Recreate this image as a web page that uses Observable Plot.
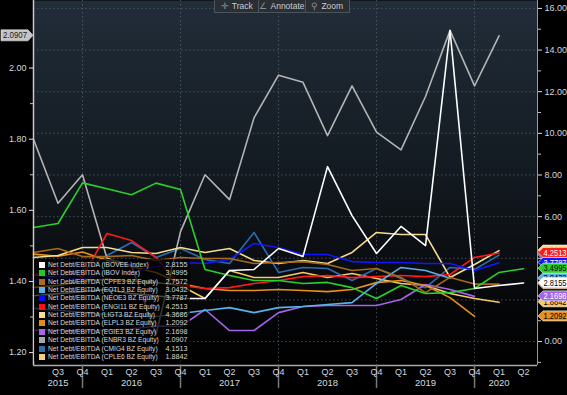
<!DOCTYPE html>
<html><head><meta charset="utf-8">
<script src="https://cdn.jsdelivr.net/npm/d3@7"></script>
<script src="https://cdn.jsdelivr.net/npm/@observablehq/plot@0.6"></script>
<style>
html,body{margin:0;padding:0;background:#000;}
#wrap{position:relative;width:567px;height:395px;overflow:hidden;background:#000;font-family:"Liberation Sans",Arial,sans-serif;}
#toolbar{position:absolute;left:214px;top:0;width:134px;height:12px;background:#2a2f35;border:1px solid #4c535b;border-top:none;display:flex;font-size:8.5px;color:#c8cdd2;line-height:12px;}
#toolbar span{flex:1;text-align:center;border-right:1px solid #4c535b;}
#toolbar span:last-child{border-right:none;}
#toolbar i{font-style:normal;color:#8a9096;margin-right:3px;}
#legend{position:absolute;left:34px;top:259px;width:156px;height:102px;background:rgba(0,0,0,0.72);font-size:8px;color:#d8d8d8;}
.row{position:absolute;left:0;height:8px;width:156px;line-height:8px;white-space:nowrap;}
.sw{position:absolute;left:5px;top:1px;width:6px;height:6px;}
.nm{position:absolute;left:14px;top:0;transform:scaleX(0.83);transform-origin:0 50%;}
.vl{position:absolute;right:3px;top:0;transform:scaleX(0.9);transform-origin:100% 50%;}
</style></head><body>
<div id="wrap"></div>
<script>
// ---------- data ----------
const quarters = ["2015Q2","2015Q3","2015Q4","2016Q1","2016Q2","2016Q3","2016Q4","2017Q1","2017Q2","2017Q3","2017Q4","2018Q1","2018Q2","2018Q3","2018Q4","2019Q1","2019Q2","2019Q3","2019Q4","2020Q1","2020Q2"];
const yearLabels = ["2015","2016","2017","2018","2019","2020"];
const yearAnchors = ["2015Q3","2016Q2","2017Q2","2018Q2","2019Q2","2020Q1"];
const rightTicks = [0,2,4,6,8,10,12,14,16];
const rightMinor = [-1,1,3,5,7,9,11,13,15];
const leftTicks = [1.2,1.4,1.6,1.8,2.0];
const leftMinor = [1.3,1.5,1.7,1.9];

const seriesNames = ["IBOVEE Index","IBOV Index","CPFE3 BZ Equity","EQTL3 BZ Equity","NEOE3 BZ Equity","ENGI11 BZ Equity","LIGT3 BZ Equity","ELPL3 BZ Equity","EGIE3 BZ Equity","ENBR3 BZ Equity","CMIG4 BZ Equity","CPLE6 BZ Equity"];
const lastValues = [2.8155,3.4995,2.7572,3.0432,3.7787,4.2513,4.3686,1.2092,2.1698,2.0907,4.1513,1.8842];

const ibovee = [2.2,2.3,2.4,2.5,2.3,2.2,2.07,2.07,3.41,3.46,4.47,4.09,8.40,6.05,4.23,5.53,4.61,14.94,2.55,2.69,2.8155];
const ibov   = [5.48,5.67,7.62,7.34,7.05,7.61,7.30,3.46,3.17,2.93,2.93,2.79,2.84,2.59,2.07,2.69,2.31,2.35,2.55,3.32,3.4995];
const cpfe3  = [4.28,4.47,4.08,4.08,4.13,3.89,4.04,3.99,3.99,3.75,3.80,3.84,3.70,3.41,3.51,3.08,2.35,3.08,2.76,2.7572,null];
const eqtl3  = [1.6,1.5,1.4,1.3,1.2,1.2,1.35,1.49,1.63,1.39,1.63,1.68,1.78,1.87,2.79,3.56,3.41,3.0432,null,null,null];
const neoe3  = [2.9,3.1,3.0,3.3,3.3,3.6,3.80,3.75,3.94,4.71,4.52,4.18,4.18,3.84,3.80,3.80,3.75,3.75,3.41,3.7787,null];
const engi11 = [3.2,3.5,3.1,5.19,4.85,4.04,2.69,2.55,2.59,2.79,2.93,3.12,3.17,3.07,3.12,3.17,3.12,3.22,4.04,4.2513,null];
const ligt3  = [4.04,4.13,4.52,4.52,4.28,4.23,4.52,4.28,4.47,3.89,3.75,3.89,3.75,4.28,5.24,5.14,5.14,3.08,3.70,4.3686,null];
const elpl3  = [4.2,4.1,4.3,3.9,3.6,3.32,2.79,2.55,2.45,2.45,2.50,2.45,2.40,2.50,2.83,2.93,2.69,2.11,1.2092,null,null];
const egie3  = [0.55,0.55,0.5,0.55,0.6,0.75,0.72,1.54,0.53,0.53,1.39,1.68,1.73,1.73,1.73,2.02,2.74,2.50,2.1698,null,null];
const enbr3  = [1.80,1.62,1.70,1.465,1.445,1.25,1.54,1.70,1.63,1.86,1.98,1.96,1.81,1.95,1.82,1.77,1.92,2.106,1.95,2.0907,null]; // left axis
const cmig4  = [3.2,3.1,3.4,4.13,4.76,4.04,4.47,3.94,3.75,5.24,3.32,3.56,3.51,2.93,3.51,3.03,2.59,3.56,3.46,4.1513,null];
const cple6  = [2.6,2.7,2.9,3.0,2.9,2.84,2.69,2.07,3.41,3.08,3.08,3.32,3.08,3.27,3.03,2.79,2.69,2.31,2.07,1.8842,null];

// ---------- styles ----------
const seriesValues = [ibovee,ibov,cpfe3,eqtl3,neoe3,engi11,ligt3,elpl3,egie3,enbr3,cmig4,cple6];
const colors = ["#ffffff","#2bd12b","#a8691c","#5ab2ea","#1414ff","#ff1a1a","#f5dc8c","#e8901a","#a464ea","#b4b4b4","#2c6cb2","#f6cc62"];
const swatch = ["#ffffff","#22cc22","#b06c18","#5ab2ea","#0a0aff","#ff1010","#f8de90","#e88c10","#a864ea","#a8a8a8","#2c6cb2","#f8d070"];
const tagText = ["#000","#000","#fff","#000","#fff","#fff","#000","#000","#fff","#000","#fff","#000"];
const onLeft = seriesNames.map(n => n === "ENBR3 BZ Equity");

const rDomain = [-1.15, 16.38];
const lDomain = [1.1637, 2.190];
const toR = d3.scaleLinear().domain(lDomain).range(rDomain);
const xMax = 20.57;

const rows = [];
seriesValues.forEach((vals, s) => vals.forEach((v, i) => {
  if (v != null) rows.push({s, name: seriesNames[s], i, v, y: onLeft[s] ? toR(v) : v});
}));

const qLabel = q => "Q" + q.slice(5);
const yearIdx = yearAnchors.map(a => quarters.indexOf(a));
const yearRows = yearLabels.map((t, k) => ({i: yearIdx[k], t}));
const sepIdx = quarters.map((q, i) => q.endsWith("Q4") ? i : -1).filter(i => i >= 0);
const leftMap = new Map(leftTicks.map(t => [toR(t), t.toFixed(2)]));

const H = 395, W = 567;
const font = '"Liberation Sans",Arial,sans-serif';
const drawOrder = d3.range(seriesNames.length).reverse();

const plot = Plot.plot({
  width: W, height: H,
  marginLeft: 33, marginRight: 30, marginTop: 0, marginBottom: 30,
  x: {domain: [0, xMax], label: null},
  y: {domain: rDomain, label: null},
  style: {background: "transparent", fontFamily: font, fontSize: "9px", color: "#d4d8dc", overflow: "visible"},
  marks: [
    Plot.frame({fill: "url(#bgGrad)", stroke: "none"}),
    Plot.gridY(rightTicks, {stroke: "#5a6672", strokeOpacity: 0.7, strokeDasharray: "1.5,2.5"}),
    Plot.gridX(sepIdx, {stroke: "#5a6672", strokeOpacity: 0.7, strokeDasharray: "1.5,2.5"}),
    ...drawOrder.map(s => Plot.line(rows.filter(r => r.s === s), {x: "i", y: "y", stroke: colors[s], strokeWidth: 1.6, curve: "linear"})),
    Plot.ruleX([0], {stroke: "#c8c8c8", strokeWidth: 1.5}),
    Plot.ruleX([xMax], {stroke: "#9a9a9a", strokeWidth: 1}),
    Plot.ruleY([rDomain[0]], {stroke: "#a8a8a8", strokeWidth: 1.5}),
    Plot.ruleX(sepIdx, {y1: rDomain[0], y2: rDomain[0] - 1.1, stroke: "#7a7a7a", strokeWidth: 1.5}),
    Plot.axisX(d3.range(1, quarters.length), {label: null, tickSize: 0, tickPadding: 3, tickFormat: i => qLabel(quarters[i]), fill: "#d4d8dc"}),
    Plot.text(yearRows, {x: "i", text: "t", frameAnchor: "bottom", dy: 20, fill: "#d4d8dc", fontSize: 9.5}),
    Plot.axisY(rightTicks, {anchor: "right", label: null, tickSize: 4, tickPadding: 3, stroke: "#e0e0e0", tickFormat: d => d.toFixed(2), fill: "#d4d8dc"}),
    Plot.axisY(rightMinor, {anchor: "right", label: null, tickSize: 3, stroke: "#c0c0c0", tickFormat: () => ""}),
    Plot.axisY(leftTicks.map(toR), {anchor: "left", label: null, tickSize: 4, tickPadding: 3, stroke: "#e0e0e0", tickFormat: d => leftMap.get(d), fill: "#d4d8dc"}),
    Plot.axisY(leftMinor.map(toR), {anchor: "left", label: null, tickSize: 3, stroke: "#c0c0c0", tickFormat: () => ""})
  ]
});

const wrap = document.getElementById("wrap");
wrap.appendChild(plot);
const svg = d3.select(plot.tagName.toLowerCase() === "svg" ? plot : plot.querySelector("svg"));
const defs = svg.insert("defs", ":first-child");
const lg = defs.append("linearGradient").attr("id", "bgGrad").attr("x1", 0).attr("y1", 0).attr("x2", 0).attr("y2", 1);
lg.append("stop").attr("offset", "0%").attr("stop-color", "#212d39");
lg.append("stop").attr("offset", "45%").attr("stop-color", "#141b22");
lg.append("stop").attr("offset", "85%").attr("stop-color", "#050608");
lg.append("stop").attr("offset", "100%").attr("stop-color", "#000000");

// value tags, positioned with the plot's own y scale
const yS = plot.scale("y");
const gTags = svg.append("g").attr("text-anchor", "start");
drawOrder.forEach(s => {
  const v = lastValues[s];
  if (onLeft[s]) {
    const py = yS.apply(toR(v));
    gTags.append("path").attr("d", `M1,${py-5.5}H28L33,${py}L28,${py+5.5}H1Z`).attr("fill", "#c4c4c4").attr("stroke", "#e8e8e8").attr("stroke-width", 0.6);
    gTags.append("text").attr("x", 3).attr("y", py).attr("dy", "0.35em").attr("text-anchor", "start").attr("textLength", 24).attr("lengthAdjust", "spacingAndGlyphs").attr("fill", "#1a1a1a").style("font", `9px ${font}`).text(v.toFixed(4));
  } else {
    const py = yS.apply(v);
    gTags.append("path").attr("d", `M538,${py}L543,${py-5}H570V${py+5}H543Z`).attr("fill", colors[s]).attr("stroke", "#f0f0f0").attr("stroke-width", 0.7);
    gTags.append("text").attr("x", 543.5).attr("y", py).attr("dy", "0.35em").attr("text-anchor", "start").attr("textLength", 23).attr("lengthAdjust", "spacingAndGlyphs").attr("fill", tagText[s]).style("font", `9px ${font}`).text(v.toFixed(4));
  }
});

// toolbar
const tb = document.createElement("div");
tb.id = "toolbar";
tb.innerHTML = '<span><i>✛</i>Track</span><span><i>∠</i>Annotate</span><span><i>⚲</i>Zoom</span>';
wrap.appendChild(tb);

// legend
const leg = document.createElement("div");
leg.id = "legend";
seriesNames.forEach((n, s) => {
  const r = document.createElement("div");
  r.className = "row";
  r.style.top = (2 + s * 8.35) + "px";
  r.innerHTML = `<div class="sw" style="background:${swatch[s]}"></div><span class="nm">Net Debt/EBITDA (${n})</span><span class="vl">${lastValues[s].toFixed(4)}</span>`;
  leg.appendChild(r);
});
wrap.appendChild(leg);
</script>
</body></html>
